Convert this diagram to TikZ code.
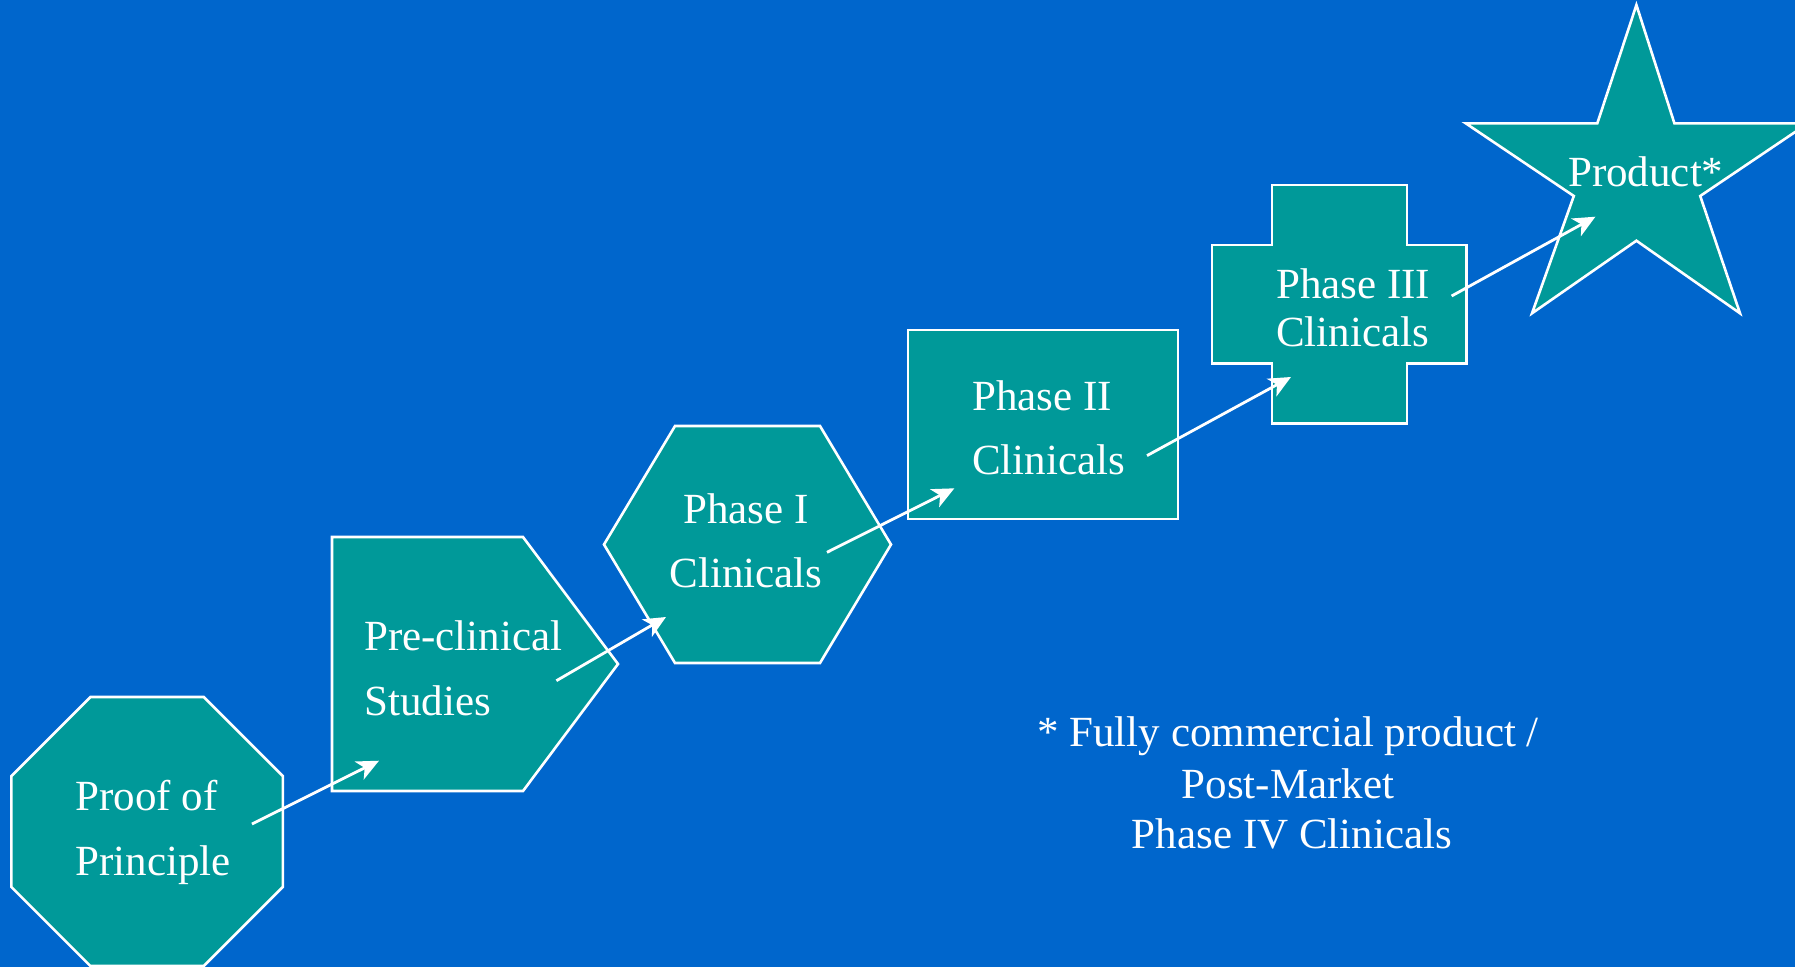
\documentclass[tikz,border=0pt]{standalone}
\usepackage{fontspec}
\setmainfont{Liberation Serif}
\usetikzlibrary{arrows.meta}
\definecolor{slidebg}{RGB}{0,102,204}
\definecolor{stagefill}{RGB}{0,153,153}
\begin{document}
\begin{tikzpicture}[x=1pt,y=-1pt,
  stage/.style={fill=stagefill,draw=white,line width=2.6pt,line join=miter},
  lbl/.style={text=white,font=\fontsize{43}{52}\selectfont,inner sep=0pt},
  flow/.style={draw=white,line width=2.8pt,-{Stealth[length=22pt,width=20pt,inset=6pt]}}]
% slide background
\fill[slidebg] (0,0) rectangle (1795,967);
\useasboundingbox (0,0) rectangle (1795,967);

% stage shapes
\draw[stage] (90.4,697) -- (203.8,697) -- (282.8,776) -- (282.8,887) -- (203.8,966)
  -- (90.4,966) -- (11.4,887) -- (11.4,776) -- cycle;
\draw[stage] (332,537) -- (523,537) -- (618,664) -- (523,791) -- (332,791) -- cycle;
\draw[stage] (675,426) -- (820,426) -- (891,544.5) -- (820,663) -- (675,663) -- (604,544.5) -- cycle;
\draw[stage] (908,330) rectangle (1178,519);
\draw[stage] (1272,185) -- (1407,185) -- (1407,245) -- (1466.5,245) -- (1466.5,363.5)
  -- (1407,363.5) -- (1407,423.5) -- (1272,423.5) -- (1272,363.5) -- (1212,363.5)
  -- (1212,245) -- (1272,245) -- cycle;
\draw[stage] (1636.4,5) -- (1674.4,123.3) -- (1808,123.3) -- (1700.2,196) -- (1740,313.3)
  -- (1636.4,240.7) -- (1532,313.3) -- (1573.8,196) -- (1465.7,123.3) -- (1597.3,123.3) -- cycle;

% stage labels
\node[lbl,anchor=base west] (pop1) at (75.5,810) {Proof of};
\node[lbl,anchor=base west] (pop2) at (75.5,875) {Principle};
\node[lbl,anchor=base west] (pre1) at (364,650.7) {Pre-clinical};
\node[lbl,anchor=base west] (pre2) at (364,715) {Studies};
\node[lbl,anchor=base] (ph1a) at (746,523) {Phase I};
\node[lbl,anchor=base] (ph1b) at (746,587) {Clinicals};
\node[lbl,anchor=base west] (ph2a) at (972,410.7) {Phase II};
\node[lbl,anchor=base west] (ph2b) at (972,474.3) {Clinicals};
\node[lbl,anchor=base west] (ph3a) at (1276,298.3) {Phase III};
\node[lbl,anchor=base west] (ph3b) at (1276,346.7) {Clinicals};
\node[lbl,anchor=base west] (prod) at (1568,186.7) {Product*};

% footnote
\node[lbl,anchor=base] (note1) at (1288,746.7) {* Fully commercial product /};
\node[lbl,anchor=base] (note2) at (1288,798.3) {Post-Market};
\node[lbl,anchor=base] (note3) at (1292,848.3) {Phase IV Clinicals};

% arrow end points
\coordinate (popOut) at (252,824);
\coordinate (preIn) at (379,760.7);
\coordinate (preOut) at (556.4,680.7);
\coordinate (ph1In) at (666,617);
\coordinate (ph1Out) at (827,552.3);
\coordinate (ph2In) at (954.4,488.3);
\coordinate (ph2Out) at (1147,455.6);
\coordinate (ph3In) at (1291,377);
\coordinate (ph3Out) at (1451.6,296);
\coordinate (prodIn) at (1595.4,216.7);

% progression arrows
\draw[flow] (popOut) -- (preIn);
\draw[flow] (preOut) -- (ph1In);
\draw[flow] (ph1Out) -- (ph2In);
\draw[flow] (ph2Out) -- (ph3In);
\draw[flow] (ph3Out) -- (prodIn);
\end{tikzpicture}
\end{document}
